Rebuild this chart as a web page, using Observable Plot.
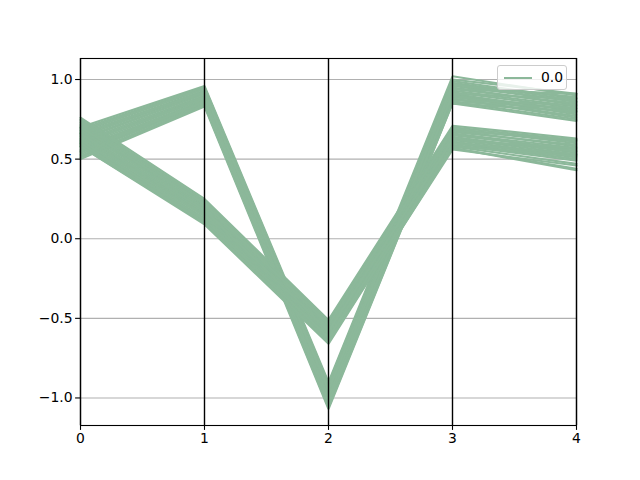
<!DOCTYPE html>
<html>
<head>
<meta charset="utf-8">
<script src="https://cdn.jsdelivr.net/npm/d3@7"></script>
<script src="https://cdn.jsdelivr.net/npm/@observablehq/plot@0.6"></script>
<style>
  body { margin: 0; background: #fff; }
  #wrap { position: relative; width: 640px; height: 480px; font-family: "DejaVu Sans", sans-serif; }
  #legend { position: absolute; left: 497px; top: 65px; width: 70px; height: 25px; box-sizing: border-box;
    border: 1px solid #cccccc; border-radius: 3px; background: rgba(255,255,255,0.8);
    font-size: 13.9px; color: #000; }
  #legend .sw { position: absolute; left: 6px; top: 11px; width: 28px; height: 2px; background: #8cb89a; }
  #legend .tx { position: absolute; left: 43px; top: 3px; }
</style>
</head>
<body>
<div id="wrap"></div>
<script>
const dims = [0, 1, 2, 3, 4];
const className = "0.0";
const lineColor = "#8cb89a";
const yTicks = [-1.0, -0.5, 0.0, 0.5, 1.0];

const groupA = [
  [0.70, 0.96, -0.90, 1.02, 0.90],
  [0.69, 0.95, -0.91, 1.00, 0.91],
  [0.68, 0.95, -0.92, 0.99, 0.88],
  [0.67, 0.94, -0.93, 0.98, 0.87],
  [0.66, 0.93, -0.94, 0.97, 0.89],
  [0.65, 0.93, -0.95, 0.96, 0.86],
  [0.64, 0.92, -0.96, 0.95, 0.84],
  [0.63, 0.91, -0.97, 0.94, 0.85],
  [0.62, 0.91, -0.97, 0.93, 0.83],
  [0.61, 0.90, -0.98, 0.92, 0.82],
  [0.60, 0.89, -0.99, 0.91, 0.80],
  [0.59, 0.89, -1.00, 0.90, 0.81],
  [0.58, 0.88, -1.01, 0.90, 0.78],
  [0.57, 0.87, -1.02, 0.89, 0.79],
  [0.56, 0.87, -1.02, 0.88, 0.77],
  [0.55, 0.86, -1.03, 0.88, 0.76],
  [0.54, 0.85, -1.04, 0.87, 0.84],
  [0.53, 0.85, -1.05, 0.86, 0.82],
  [0.52, 0.84, -1.05, 0.86, 0.75],
  [0.51, 0.84, -1.06, 0.85, 0.80],
  [0.50, 0.83, -1.07, 0.85, 0.74],
  [0.66, 0.92, -0.95, 0.94, 0.91],
  [0.60, 0.88, -1.00, 0.97, 0.86],
  [0.55, 0.86, -1.03, 0.91, 0.88]
];

const groupB = [
  [0.76, 0.25, -0.51, 0.71, 0.63],
  [0.75, 0.24, -0.52, 0.70, 0.62],
  [0.74, 0.23, -0.53, 0.69, 0.60],
  [0.73, 0.23, -0.54, 0.69, 0.61],
  [0.72, 0.22, -0.55, 0.68, 0.58],
  [0.71, 0.21, -0.56, 0.67, 0.59],
  [0.70, 0.20, -0.56, 0.66, 0.57],
  [0.69, 0.19, -0.57, 0.66, 0.55],
  [0.68, 0.19, -0.58, 0.65, 0.56],
  [0.67, 0.18, -0.59, 0.64, 0.54],
  [0.66, 0.17, -0.60, 0.63, 0.53],
  [0.65, 0.16, -0.60, 0.63, 0.55],
  [0.64, 0.15, -0.61, 0.62, 0.52],
  [0.63, 0.15, -0.62, 0.61, 0.51],
  [0.62, 0.14, -0.62, 0.60, 0.50],
  [0.61, 0.13, -0.63, 0.60, 0.53],
  [0.60, 0.12, -0.64, 0.59, 0.49],
  [0.59, 0.11, -0.64, 0.58, 0.47],
  [0.58, 0.10, -0.65, 0.57, 0.44],
  [0.58, 0.09, -0.66, 0.57, 0.43],
  [0.70, 0.22, -0.54, 0.68, 0.62],
  [0.66, 0.18, -0.58, 0.62, 0.57],
  [0.62, 0.12, -0.62, 0.58, 0.52],
  [0.60, 0.10, -0.65, 0.56, 0.46]
];

const rows = [];
[...groupA, ...groupB].forEach((vals, id) => {
  vals.forEach((v, j) => rows.push({id, x: dims[j], y: v}));
});

const fmtY = d => d.toFixed(1).replace("-", "\u2212");

const chart = Plot.plot({
  width: 640,
  height: 480,
  marginLeft: 80,
  marginRight: 64,
  marginTop: 58,
  marginBottom: 55,
  style: {fontFamily: "DejaVu Sans, sans-serif", fontSize: "13.9px", color: "#000", background: "#fff"},
  x: {domain: [0, 4]},
  y: {domain: [-1.173, 1.132]},
  marks: [
    Plot.ruleY(yTicks, {stroke: "#b0b0b0", strokeWidth: 1.1}),
    Plot.line(rows, {x: "x", y: "y", z: "id", stroke: lineColor, strokeWidth: 2.1, strokeLinejoin: "miter"}),
    Plot.ruleX(dims, {stroke: "#000", strokeWidth: 1.4}),
    Plot.frame({stroke: "#000", strokeWidth: 1.1}),
    Plot.axisX(dims, {tickSize: 4.9, tickPadding: 3, tickFormat: d => String(d), label: null, stroke: "#000", strokeWidth: 1.1, fontSize: "13.9px"}),
    Plot.axisY(yTicks, {tickSize: 4.9, tickPadding: 3, tickFormat: fmtY, label: null, stroke: "#000", strokeWidth: 1.1, fontSize: "13.9px"})
  ]
});

const wrap = document.getElementById("wrap");
wrap.appendChild(chart);
const leg = document.createElement("div");
leg.id = "legend";
leg.innerHTML = '<div class="sw"></div><div class="tx">' + className + '</div>';
wrap.appendChild(leg);
</script>
</body>
</html>
